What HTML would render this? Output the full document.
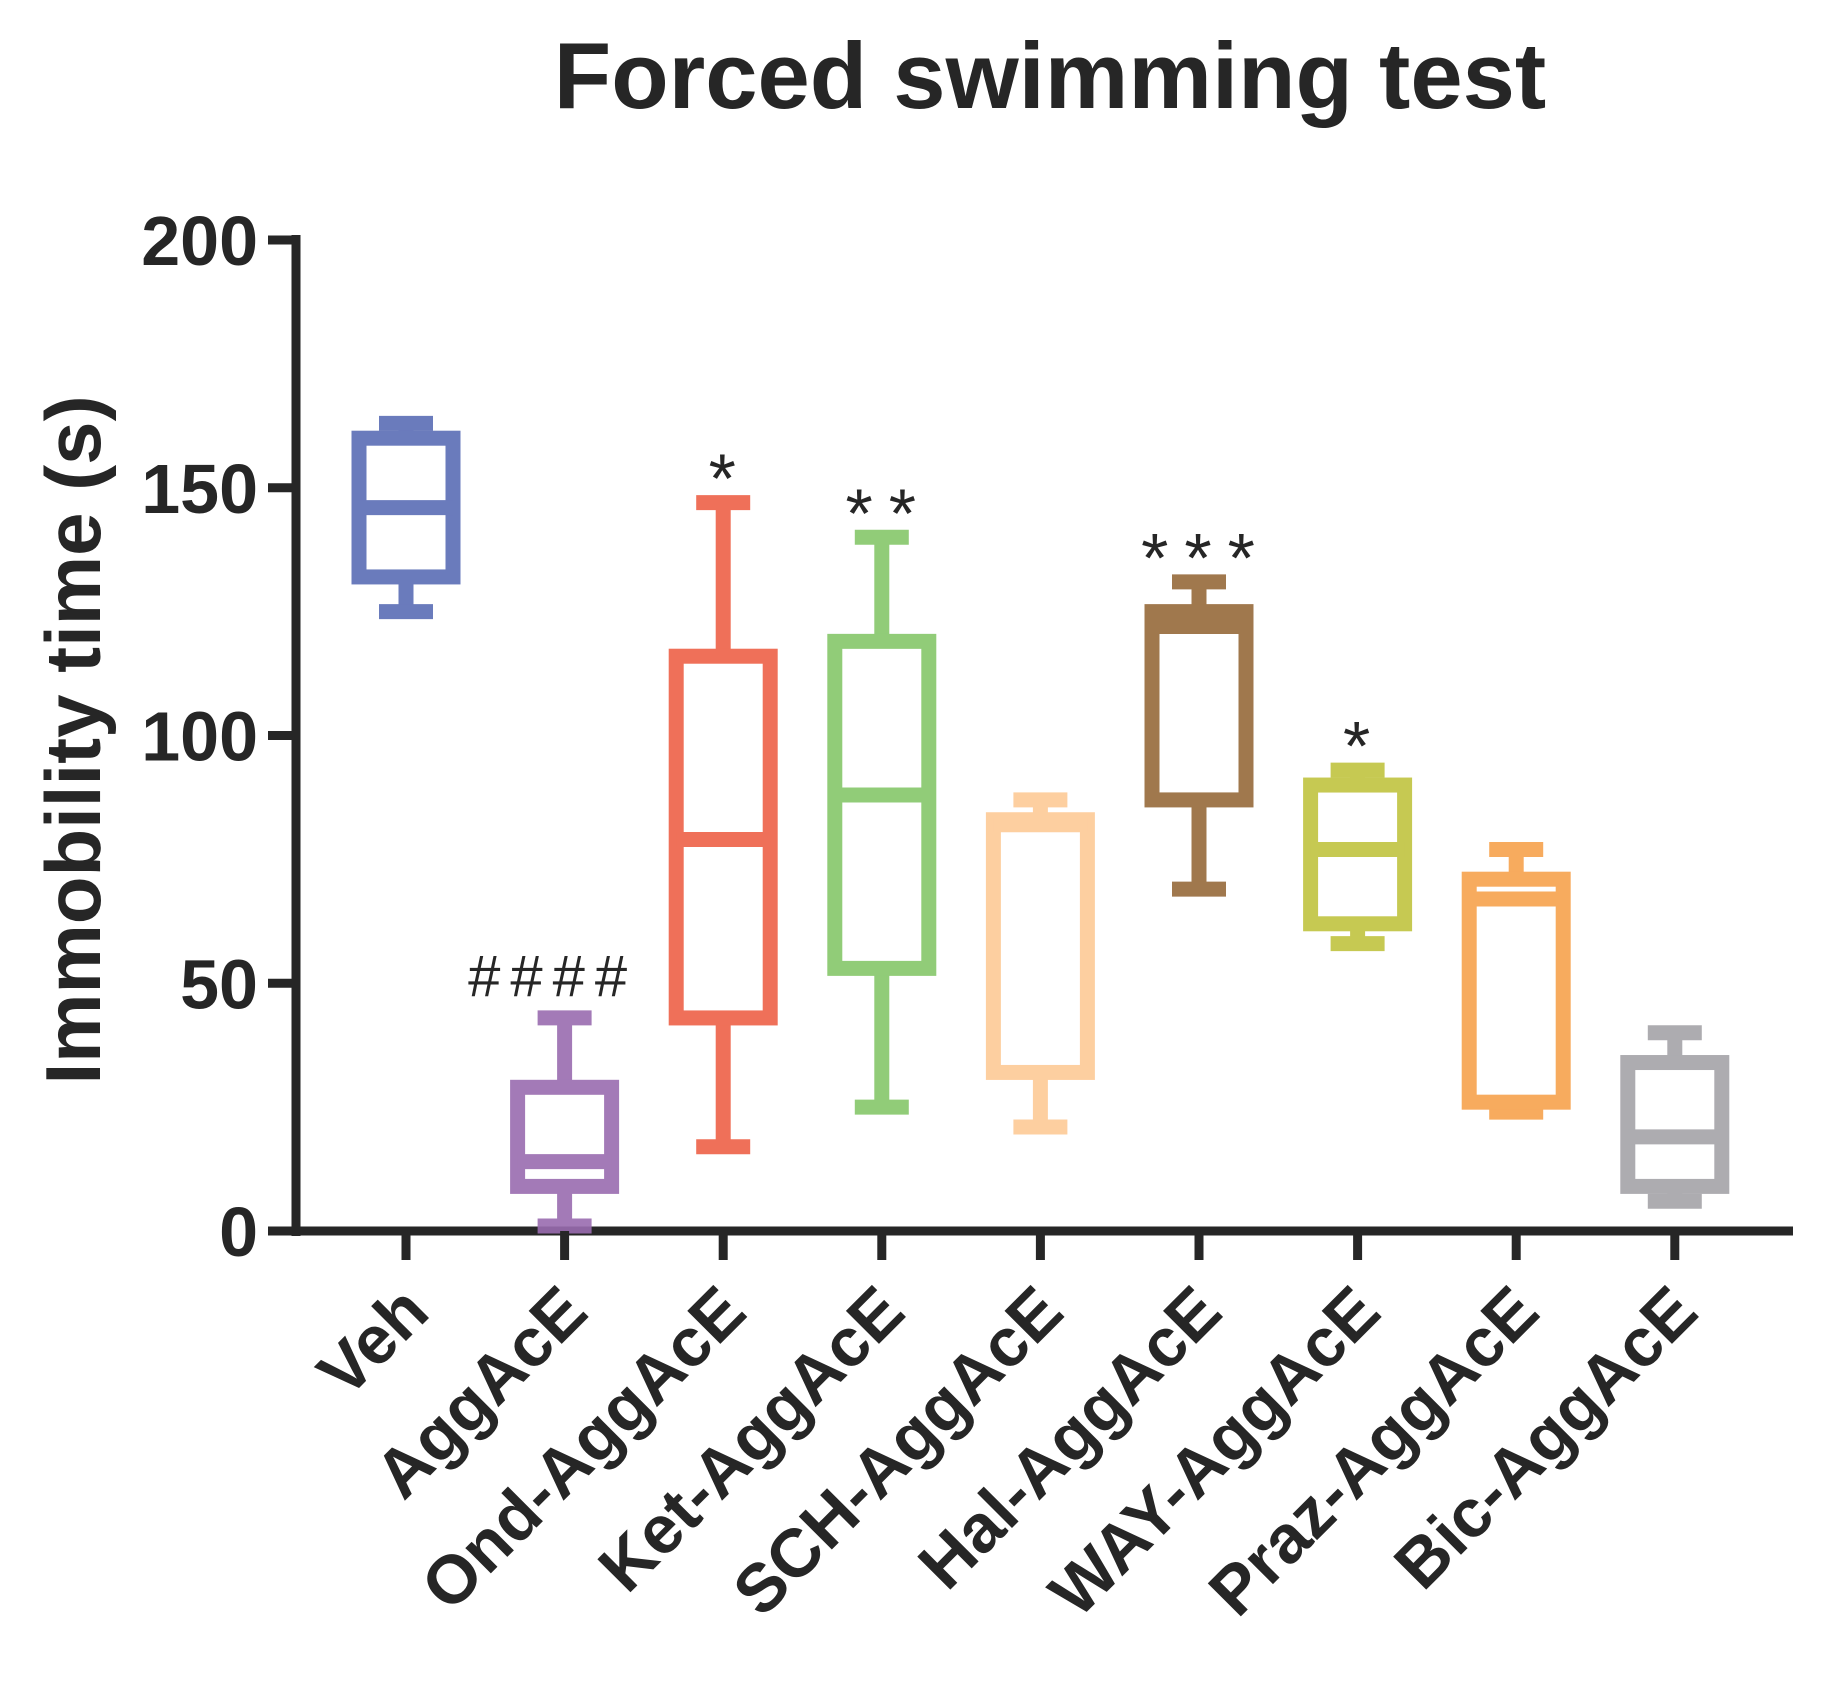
<!DOCTYPE html>
<html><head><meta charset="utf-8"><style>
body{margin:0;background:#fff}
svg{display:block;font-family:"Liberation Sans",Arial,sans-serif}
</style></head><body>
<svg id="chart" width="1847" height="1697" viewBox="0 0 1847 1697">
<text x="1050" y="108" font-size="94" font-weight="bold" text-anchor="middle" fill="#262626">Forced swimming test</text>
<text transform="translate(100,740) rotate(-90)" font-size="78" font-weight="bold" text-anchor="middle" fill="#262626">Immobility time (s)</text>
<g id="plot"></g>
</svg>
<script>
const categories=["Veh","AggAcE","Ond-AggAcE","Ket-AggAcE","SCH-AggAcE","Hal-AggAcE","WAY-AggAcE","Praz-AggAcE","Bic-AggAcE"];
const maxVals=[163,43,147,140,87,131,93,77,40];
const q3Vals=[160,29,116,119,83,125,90,71,34];
const medVals=[146,14,79,88,82,122,77,67,19];
const q1Vals=[132,9,43,53,32,87,62,26,9];
const minVals=[125,1,17,25,21,69,58,24,6];
const marks=["","####","*","**","","***","*","",""];
const yTicks=[0,50,100,150,200];
const colors=["#5a6db5","#9a6cb0","#ee6148","#86c76a","#fdca96","#966a3a","#c0c440","#f7a24d","#a5a4a8"];
const svgNS="http://www.w3.org/2000/svg";
const g=document.getElementById('plot');
const X0=296,Y0=1231,Y200=240,XEND=1793,X1=406,DX=158.6;
const y=v=>Y0-(v/200)*(Y0-Y200);
const x=i=>X1+i*DX;
function el(t,a,p){const e=document.createElementNS(svgNS,t);for(const k in a)e.setAttribute(k,a[k]);(p||g).appendChild(e);return e;}
let ax=el('line',{x1:X0,y1:Y200-5,x2:X0,y2:Y0+5,stroke:'#262626','stroke-width':9});


let bx=el('line',{x1:X0-5,y1:Y0,x2:XEND,y2:Y0,stroke:'#262626','stroke-width':9});


yTicks.forEach(t=>{
  let l=el('line',{x1:X0-28,y1:y(t),x2:X0,y2:y(t),stroke:'#262626','stroke-width':9});
  
  
  let tx=el('text',{x:X0-38,y:y(t)+25,'font-size':70,'font-weight':'bold','text-anchor':'end',fill:'#262626'});
  tx.textContent=t;
  
  
});
categories.forEach((c,i)=>{
  const cx=x(i),col=colors[i],bw=94,cw=54,sw=15;
  let grp=el('g',{opacity:0.9});
  
  
  el('line',{x1:cx,y1:y(maxVals[i]),x2:cx,y2:y(q3Vals[i]),stroke:col,'stroke-width':sw},grp);
  el('line',{x1:cx,y1:y(q1Vals[i]),x2:cx,y2:y(minVals[i]),stroke:col,'stroke-width':sw},grp);
  el('line',{x1:cx-cw/2,y1:y(maxVals[i]),x2:cx+cw/2,y2:y(maxVals[i]),stroke:col,'stroke-width':sw},grp);
  el('line',{x1:cx-cw/2,y1:y(minVals[i]),x2:cx+cw/2,y2:y(minVals[i]),stroke:col,'stroke-width':sw},grp);
  el('rect',{x:cx-bw/2,y:y(q3Vals[i]),width:bw,height:y(q1Vals[i])-y(q3Vals[i]),fill:'#fff',stroke:col,'stroke-width':sw},grp);
  el('line',{x1:cx-bw/2,y1:y(medVals[i]),x2:cx+bw/2,y2:y(medVals[i]),stroke:col,'stroke-width':sw},grp);
  let tk=el('line',{x1:cx,y1:Y0,x2:cx,y2:Y0+29,stroke:'#262626','stroke-width':9});
  
  
  let lb=el('text',{transform:`translate(${cx+26},${Y0+84}) rotate(-45)`,'font-size':68,'font-weight':'bold','text-anchor':'end',fill:'#262626'});
  lb.textContent=c;
  
  
  if(marks[i]){
    const hash=marks[i][0]=='#';
    let m=el('text',{x:cx+(hash?-12:7),y:y(maxVals[i])-(hash?22:0),'font-size':hash?58:70,'text-anchor':'middle',fill:'#262626','letter-spacing':hash?10:16});
    m.textContent=marks[i];
    
    
  }
});
</script>
</body></html>
